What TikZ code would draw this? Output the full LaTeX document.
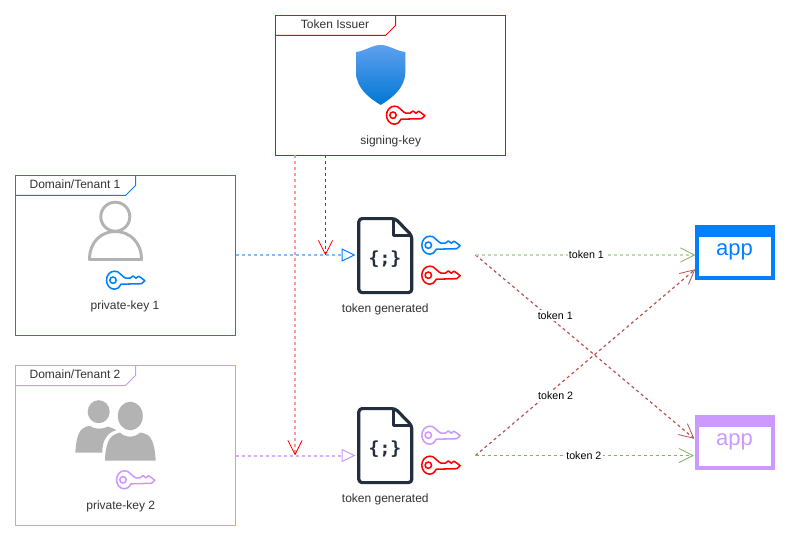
\documentclass[tikz,border=0pt]{standalone}
\usepackage{fontspec}
\setmainfont{Liberation Sans}
\newfontfamily\iconfont{DejaVu Sans Mono}
\usetikzlibrary{arrows.meta}
\definecolor{cblue}{HTML}{007FFF}
\definecolor{cpurple}{HTML}{CC99FF}
\definecolor{cred}{HTML}{FF0000}
\definecolor{cgreen}{HTML}{82B366}
\definecolor{cdred}{HTML}{B85450}
\definecolor{cgray}{HTML}{B3B3B3}
\definecolor{cdoc}{HTML}{232F3E}
\definecolor{ctext}{HTML}{333333}
\definecolor{shieldtop}{HTML}{5EA0EF}
\definecolor{shieldbot}{HTML}{0078D4}
\tikzset{
  x=0.75pt,y=-0.75pt,
  every node/.style={font=\fontsize{9}{11}\selectfont,inner sep=0pt,outer sep=0pt},
  framebox/.style={draw=#1,line width=.75pt,fill=white},
  tabline/.style={draw=#1,line width=.75pt},
  lbl/.style={text=ctext},
  conn/.style={draw=#1,line width=.75pt,dash pattern=on 2.25pt off 2.25pt},
  diagconn/.style={draw=#1,line width=.9pt,dash pattern=on 2.25pt off 2.25pt},
  softconn/.style={draw=#1,line width=1.5pt,dash pattern=on 2.25pt off 2.25pt},
  barb/.style={-{Straight Barb[length=10.5pt,width=10.5pt,line width=.6pt,round=false,#1]}},
  tri/.style={-{Triangle[open,length=10.5pt,width=10pt,fill=white,line width=.75pt,#1]}},
  edgelab/.style={fill=white,text=black,inner xsep=1pt,inner ysep=1pt,font=\fontsize{8}{10}\selectfont},
  appwin/.style={draw=#1,fill=#1,line width=.75pt,minimum width=59.25pt,minimum height=40.5pt},
  applab/.style={font=\fontsize{16.5}{19}\selectfont},
  docicon/.style={minimum width=42pt,minimum height=58pt},
  glyph/.style={font=\iconfont\bfseries\fontsize{13.5}{16}\selectfont,text=cdoc},
  pics/keyicon/.style={code={
    \draw[draw=#1,line width=1.15pt,fill=white,line join=round]
      (14,3) .. controls (12.5,1.2) and (11,0.5) .. (8.5,0.5)
      .. controls (4,0.5) and (0.5,4.5) .. (0.5,9.5)
      .. controls (0.5,14.5) and (4,18.5) .. (8.5,18.5)
      .. controls (11,18.5) and (12.5,17.5) .. (15,13.5)
      -- (35.5,13) -- (38.8,10) -- (35,7) -- (32.5,5.5) -- (30,7.5) -- (27,5.2) -- (24,7.5) -- (20,7.5) -- (18,6.5) -- cycle;
    \draw[draw=#1,line width=1.15pt] (7,9.5) circle[radius=3.2];
  }},
  docshape/.pic={
    \draw[line width=2.4pt,draw=cdoc,line join=round,fill=white,rounded corners=2.5pt]
      (-26.5,-37) -- (10,-37) -- (26.5,-20) -- (26.5,37) -- (-26.5,37) -- cycle;
    \draw[line width=2.4pt,draw=cdoc,line join=round]
      (8,-37) -- (8,-20) -- (26.5,-20);
  }
}
\begin{document}
\begin{tikzpicture}
\useasboundingbox (0,0) rectangle (790,542);
\fill[white] (0,0) rectangle (790,542);

% frames
\node[framebox=cred,minimum width=172.5pt,minimum height=105pt] (issuer) at (390.5,85.5) {};
\node[framebox=cblue,minimum width=165pt,minimum height=120pt] (d1) at (125.5,255.5) {};
\node[framebox=cpurple,minimum width=165pt,minimum height=120pt] (d2) at (125.5,445.5) {};

% tabs
\draw[tabline=cred] (issuer.north west) ++(0,20) -- ++(110,0) -- ++(10,-10) -- ++(0,-10);
\draw[tabline=cblue] (d1.north west) ++(0,20) -- ++(110,0) -- ++(10,-10) -- ++(0,-10);
\draw[tabline=cpurple] (d2.north west) ++(0,20) -- ++(110,0) -- ++(10,-10) -- ++(0,-10);
\node[lbl] (tab0) at (335,24.7) {Token Issuer};
\node[lbl] (tab1) at (75,184.7) {Domain/Tenant 1};
\node[lbl] (tab2) at (75,374.7) {Domain/Tenant 2};

% shield
\shade[top color=shieldtop,bottom color=shieldbot]
  (356,52) .. controls (365,51) and (372,45) .. (380.7,45)
  .. controls (389,45) and (396,51) .. (405.3,52)
  -- (405.3,72) .. controls (405.3,88) and (392,98) .. (380.7,105)
  .. controls (369,98) and (356,88) .. (356,72) -- cycle;

% user
\draw[draw=cgray,line width=2.2pt] (115.3,216.7) circle[radius=14.5];
\draw[draw=cgray,line width=2.2pt,line join=round]
  (89.5,259.5) .. controls (89.5,242) and (101,231.5) .. (115.3,231.5)
  .. controls (129.5,231.5) and (141.5,242) .. (141.5,259.5) -- cycle;

% users
\fill[cgray] (98.7,411.7) ellipse[x radius=11,y radius=11.5];
\fill[cgray] (75.3,452.7) .. controls (76,441) and (78,431) .. (83,428.5)
  .. controls (86,426.5) and (88,426) .. (90,426)
  .. controls (94,429.5) and (103,429.5) .. (108,426.5)
  -- (116.7,430) .. controls (108,432) and (102,440) .. (102.3,452.7) -- cycle;
\fill[cgray] (130.3,416) ellipse[x radius=12.5,y radius=14.3];
\fill[cgray] (105,460.7) -- (155.7,460.7) .. controls (155,450) and (154,443) .. (150,437)
  .. controls (147,434) and (144,433) .. (140,432.5)
  .. controls (135,438) and (125,438) .. (120,432.5)
  .. controls (114,434) and (110,437) .. (108,442)
  .. controls (106,448) and (105,454) .. (105,460.7) -- cycle;

% documents
\node[docicon] (doc1) at (385.3,255.6) {};
\node[docicon] (doc2) at (385.3,445.6) {};
\pic at (doc1.center) {docshape};
\pic at (doc2.center) {docshape};
\node[glyph] (g1) at (385,259.5) {\{;\}};
\node[glyph] (g2) at (385,449.5) {\{;\}};

% keys
\pic at (386,105.7) {keyicon=cred};
\pic at (106,270.7) {keyicon=cblue};
\pic at (116,470.3) {keyicon=cpurple};
\pic at (421.3,235.7) {keyicon=cblue};
\pic at (421.3,265.7) {keyicon=cred};
\pic at (421.3,425.7) {keyicon=cpurple};
\pic at (421.3,455.7) {keyicon=cred};

% apps
\node[appwin=cblue] (app1) at (735.2,252.3) {};
\node[appwin=cpurple] (app2) at (735.2,442.3) {};
\fill[white] ([shift={(3.5,11.5)}]app1.north west) rectangle ([shift={(-3.5,-3.5)}]app1.south east);
\fill[white] ([shift={(3.5,11.5)}]app2.north west) rectangle ([shift={(-3.5,-3.5)}]app2.south east);
\node[applab,text=cblue] (a1) at (734.5,251.5) {app};
\node[applab,text=cpurple] (a2) at (734.5,441.5) {app};

% labels
\node[lbl] (l0) at (390.7,141) {signing-key};
\node[lbl] (l1) at (125,306) {private-key 1};
\node[lbl] (l2) at (120.7,506) {private-key 2};
\node[lbl] (l3) at (385.3,309) {token generated};
\node[lbl] (l4) at (385.3,499) {token generated};

% connector end points
\coordinate (blueStart) at (236,255);
\coordinate (blueEnd) at (355.5,255);
\coordinate (purpleStart) at (236,455.5);
\coordinate (purpleEnd) at (355.5,455.5);
\coordinate (redA) at (295,155.5);
\coordinate (redAend) at (295,455);
\coordinate (redB) at (325.5,155.5);
\coordinate (redBend) at (325.5,255);
\coordinate (src1) at (475.5,255);
\coordinate (src2) at (475.5,455.5);
\coordinate (in11) at (695,255);
\coordinate (in12) at (695,269.5);
\coordinate (in21) at (694,438.5);
\coordinate (in22) at (693.5,455.5);

% connectors
\draw[softconn=cblue!50,tri=cblue] (blueStart) -- (blueEnd);
\draw[softconn=cpurple!80,tri=cpurple] (purpleStart) -- (purpleEnd);
\draw[softconn=cred!40,barb=cred] (redA) -- (redAend);
\draw[conn=cred,barb=cred] (redB) -- (redBend);
\draw[diagconn=cdred,barb=cdred] (src1) -- node[edgelab,pos=.365,yshift=5pt] {token 1} (in21);
\draw[diagconn=cdred,barb=cdred] (src2) -- node[edgelab,pos=.365,yshift=-6.4pt] {token 2} (in12);
\draw[softconn=cgreen!50,barb=cgreen] (src1) -- node[edgelab,pos=.505] {token 1} (in11);
\draw[conn=cgreen,barb=cgreen] (src2) -- node[edgelab,pos=.497] {token 2} (in22);
\end{tikzpicture}
\end{document}
